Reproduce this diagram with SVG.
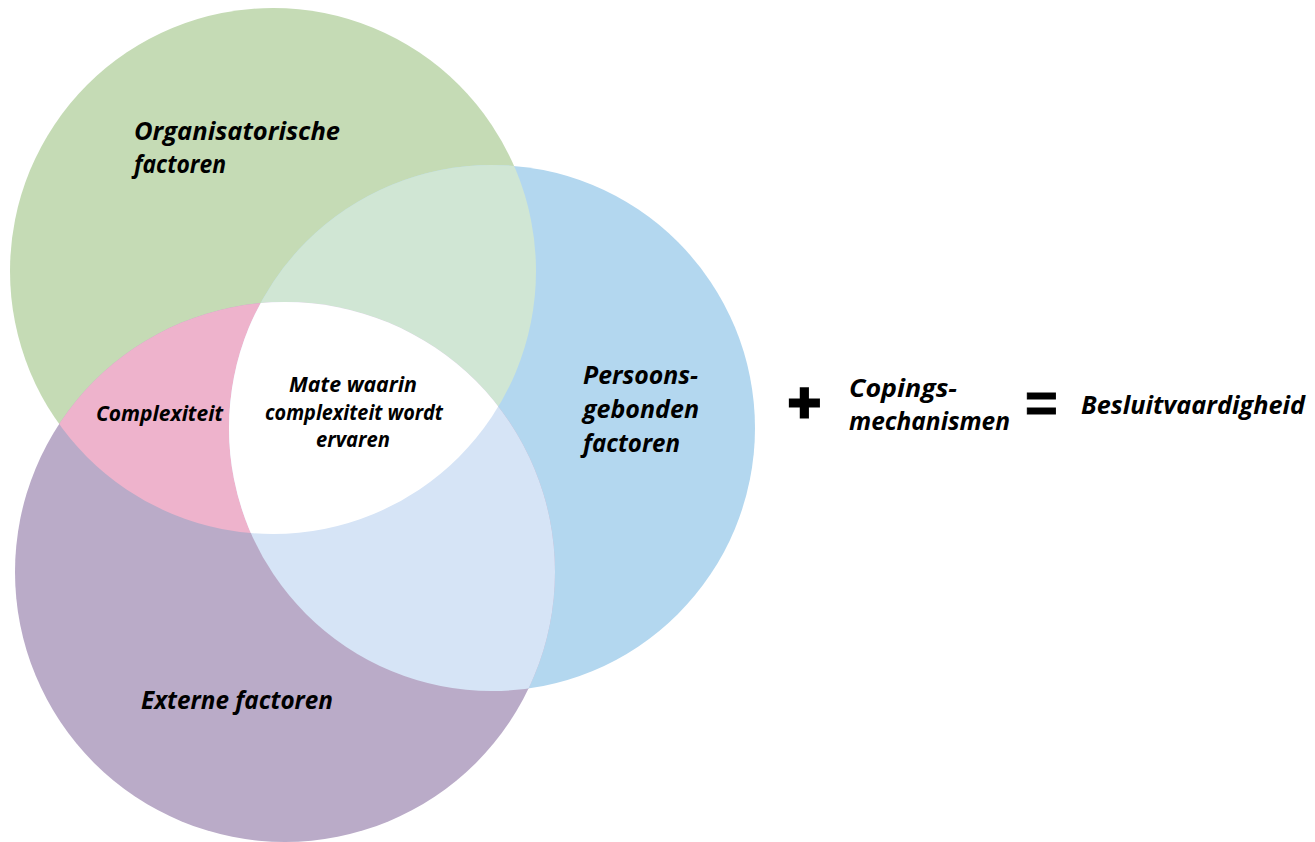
<svg xmlns="http://www.w3.org/2000/svg" width="1315" height="842" viewBox="0 0 1315 842">
<style>
.t{font-family:"Open Sans","Noto Sans","Liberation Sans",sans-serif;font-weight:700;font-style:italic;fill:#000;}
.b{font-size:25px;}
.s{font-size:20.5px;}
.op{font-family:"Liberation Sans",Arial,sans-serif;font-weight:700;fill:#000;stroke:#000;}
</style>
<defs>
<clipPath id="cG"><circle cx="273" cy="271" r="263"/></clipPath>
<clipPath id="cB"><circle cx="492" cy="428" r="263"/></clipPath>
<clipPath id="cP"><circle cx="285" cy="572" r="270"/></clipPath>
</defs>
<rect width="1315" height="842" fill="#ffffff"/>
<g id="circle-organisatorisch">
<circle cx="273" cy="271" r="263" fill="#c5dbb5"/>
</g>
<g id="circle-persoonsgebonden">
<circle cx="492" cy="428" r="263" fill="#b3d7ef"/>
</g>
<g id="circle-extern">
<circle cx="285" cy="572" r="270" fill="#baabc8"/>
</g>
<g id="overlap-green-blue">
<circle cx="492" cy="428" r="263" fill="#d0e6d4" clip-path="url(#cG)"/>
</g>
<g id="overlap-green-purple">
<circle cx="285" cy="572" r="270" fill="#eeb3cc" clip-path="url(#cG)"/>
</g>
<g id="overlap-blue-purple">
<circle cx="285" cy="572" r="270" fill="#d6e4f6" clip-path="url(#cB)"/>
</g>
<g id="overlap-center">
<g clip-path="url(#cG)">
<circle cx="285" cy="572" r="270" fill="#ffffff" clip-path="url(#cB)"/>
</g>
</g>
<g id="label-organisatorisch">
<text class="t b" x="134" y="140" textLength="206" lengthAdjust="spacingAndGlyphs">Organisatorische</text>
<text class="t b" x="134" y="173" textLength="92" lengthAdjust="spacingAndGlyphs">factoren</text>
</g>
<g id="label-complexiteit">
<text class="t" style="font-size:21.5px" x="96" y="421" textLength="127" lengthAdjust="spacingAndGlyphs">Complexiteit</text>
</g>
<g id="label-center">
<text class="t s" x="289" y="392" textLength="128" lengthAdjust="spacingAndGlyphs">Mate waarin</text>
<text class="t s" x="265" y="420" textLength="178" lengthAdjust="spacingAndGlyphs">complexiteit wordt</text>
<text class="t s" x="316" y="447" textLength="74" lengthAdjust="spacingAndGlyphs">ervaren</text>
</g>
<g id="label-persoonsgebonden">
<text class="t b" x="583" y="384" textLength="115" lengthAdjust="spacingAndGlyphs">Persoons-</text>
<text class="t b" x="583" y="418" textLength="116" lengthAdjust="spacingAndGlyphs">gebonden</text>
<text class="t b" x="583" y="452" textLength="97" lengthAdjust="spacingAndGlyphs">factoren</text>
</g>
<g id="label-extern">
<text class="t b" x="141" y="709" textLength="192" lengthAdjust="spacingAndGlyphs">Externe factoren</text>
</g>
<g id="formula">
<text class="op" x="788" y="421" style="font-size:56px" stroke-width="3">+</text>
<text class="t b" x="849" y="397" textLength="108" lengthAdjust="spacingAndGlyphs">Copings-</text>
<text class="t b" x="849" y="430" textLength="161" lengthAdjust="spacingAndGlyphs">mechanismen</text>
<text class="op" x="1025" y="422" style="font-size:56px" stroke-width="1">=</text>
<text class="t b" x="1081" y="414" textLength="224" lengthAdjust="spacingAndGlyphs">Besluitvaardigheid</text>
</g>
</svg>
